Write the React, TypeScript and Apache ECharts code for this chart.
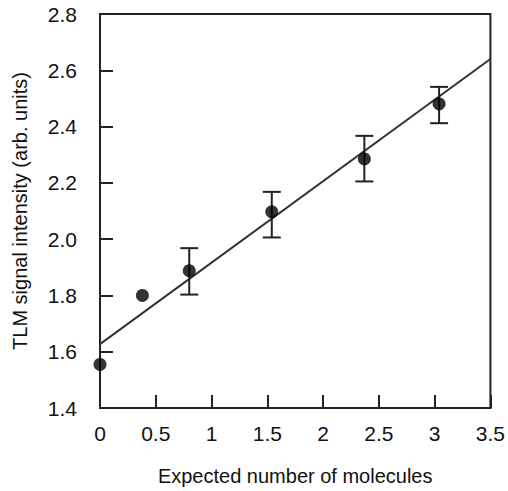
import React, { useEffect, useRef } from "react";
import * as echarts from "echarts";

const xValues = [0, 0.38, 0.8, 1.54, 2.37, 3.04];
const yValues = [1.555, 1.8, 1.888, 2.097, 2.285, 2.481];
const errLow = [null, null, 1.803, 2.006, 2.205, 2.412];
const errHigh = [null, null, 1.968, 2.168, 2.367, 2.541];
const fitLine = [
  [0, 1.627],
  [3.5, 2.64],
];
const xTitle = "Expected number of molecules";
const yTitle = "TLM signal intensity (arb. units)";

export default function App() {
  const ref = useRef<HTMLDivElement>(null);
  useEffect(() => {
    if (!ref.current) return;
    const chart = echarts.init(ref.current, null, { renderer: "svg" });
    const font = "Liberation Sans, Arial, sans-serif";
    const errData = xValues
      .map((x, i) => [x, errLow[i], errHigh[i]])
      .filter((d) => d[1] !== null);
    chart.setOption({
      animation: false,
      backgroundColor: "#fff",
      grid: {
        left: 100,
        right: 13,
        top: 14,
        bottom: 80,
        show: true,
        borderColor: "#222",
        borderWidth: 2,
      },
      xAxis: {
        type: "value",
        min: 0,
        max: 3.5,
        interval: 0.5,
        name: xTitle,
        nameLocation: "middle",
        nameGap: 58,
        nameTextStyle: { fontFamily: font, fontSize: 20, color: "#111" },
        axisLine: { show: true, lineStyle: { color: "#222", width: 2 } },
        axisTick: { show: true, inside: true, length: 13, lineStyle: { color: "#222", width: 2 } },
        axisLabel: { fontFamily: font, fontSize: 21, color: "#111", margin: 15 },
        splitLine: { show: false },
      },
      yAxis: {
        type: "value",
        min: 1.4,
        max: 2.8,
        interval: 0.2,
        name: yTitle,
        nameLocation: "middle",
        nameGap: 70,
        nameTextStyle: { fontFamily: font, fontSize: 20, color: "#111" },
        axisLine: { show: true, lineStyle: { color: "#222", width: 2 } },
        axisTick: { show: true, inside: true, length: 13, lineStyle: { color: "#222", width: 2 } },
        axisLabel: {
          fontFamily: font,
          fontSize: 21,
          color: "#111",
          margin: 23,
          formatter: (v: number) => v.toFixed(1),
        },
        splitLine: { show: false },
      },
      series: [
        {
          type: "line",
          data: fitLine,
          symbol: "none",
          lineStyle: { color: "#333", width: 2 },
          z: 1,
        },
        {
          type: "custom",
          data: errData,
          z: 2,
          renderItem: (params: any, api: any) => {
            const x = api.value(0);
            const lo = api.coord([x, api.value(1)]);
            const hi = api.coord([x, api.value(2)]);
            const hw = 9;
            const style = { stroke: "#222", lineWidth: 2 };
            return {
              type: "group",
              children: [
                { type: "line", shape: { x1: lo[0], y1: lo[1], x2: hi[0], y2: hi[1] }, style },
                { type: "line", shape: { x1: lo[0] - hw, y1: lo[1], x2: lo[0] + hw, y2: lo[1] }, style },
                { type: "line", shape: { x1: hi[0] - hw, y1: hi[1], x2: hi[0] + hw, y2: hi[1] }, style },
              ],
            };
          },
        },
        {
          type: "scatter",
          data: xValues.map((x, i) => [x, yValues[i]]),
          symbol: "circle",
          symbolSize: 13,
          itemStyle: { color: "#000" },
          z: 3,
        },
      ],
    });
    return () => chart.dispose();
  }, []);
  return (
    <div
      ref={ref}
      style={{ position: "absolute", left: 0, top: 0, width: 508, height: 491 }}
    />
  );
}
